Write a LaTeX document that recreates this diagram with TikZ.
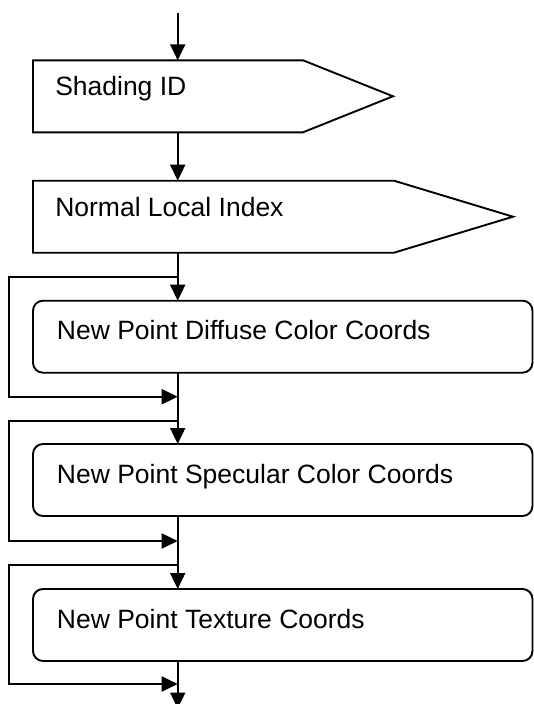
\documentclass[tikz,border=0pt]{standalone}
\usepackage{fontspec}
\setmainfont{Liberation Sans}
\usetikzlibrary{arrows.meta}
\begin{document}
\begin{tikzpicture}[x=1pt,y=-1pt,
  line width=1.9pt,
  tip/.style={-{Triangle[length=16pt,width=15pt]}},
  lbl/.style={anchor=base west,font=\fontsize{26.5}{30}\selectfont,inner sep=0pt},
  area/.style={rectangle,inner sep=0pt,outer sep=0pt,minimum height=72pt,anchor=north west},
  rbox/.style={area,draw,rounded corners=10pt,minimum width=499.5pt},
  frame/.style={draw,line join=miter}
]
\useasboundingbox (0,0) rectangle (534,704);

% spine and free ends
\coordinate (spine) at (177.7,0);
\coordinate (start) at (177.7,12.7);
\coordinate (finish) at (177.7,708.5);

% pentagon boxes
\node[area,minimum width=270pt] (shade) at (33,60.3) {};
\draw[frame] (shade.north west) -- (shade.north east) -- ++(90,36) -- (shade.south east) -- (shade.south west) -- cycle;
\node[lbl] (tshade) at (54.3,95.7) {Shading ID};

\node[area,minimum width=361pt] (nli) at (33,180.7) {};
\draw[frame] (nli.north west) -- (nli.north east) -- ++(119,36) -- (nli.south east) -- (nli.south west) -- cycle;
\node[lbl] (tnli) at (54.3,216.2) {Normal Local Index};

% rounded boxes
\node[rbox] (diff) at (33,300.7) {};
\node[lbl] (tdiff) at (56,339.7) {New Point Diffuse Color Coords};

\node[rbox] (spec) at (33,444) {};
\node[lbl] (tspec) at (56,483) {New Point Specular Color Coords};

\node[rbox] (tex) at (33,589) {};
\node[lbl] (ttex) at (56,628) {New Point Texture Coords};

% branch and merge points
\coordinate (b1) at (177.7,277);
\coordinate (m1) at (177.7,396.7);
\coordinate (b2) at (177.7,421);
\coordinate (m2) at (177.7,541);
\coordinate (b3) at (177.7,565);
\coordinate (m3) at (177.7,684);

% main flow
\draw[tip] (start) -- (shade.north -| spine);
\draw[tip] (shade.south -| spine) -- (nli.north -| spine);
\draw[tip] (nli.south -| spine) -- (diff.north -| spine);
\draw[tip] (diff.south -| spine) -- (spec.north -| spine);
\draw[tip] (spec.south -| spine) -- (tex.north -| spine);
\draw[tip] (tex.south -| spine) -- (finish);

% bypass loops
\draw[tip,line join=miter] (b1) -- ++(-168.4,0) |- (m1);
\draw[tip,line join=miter] (b2) -- ++(-168.4,0) |- (m2);
\draw[tip,line join=miter] (b3) -- ++(-168.4,0) |- (m3);
\end{tikzpicture}
\end{document}
